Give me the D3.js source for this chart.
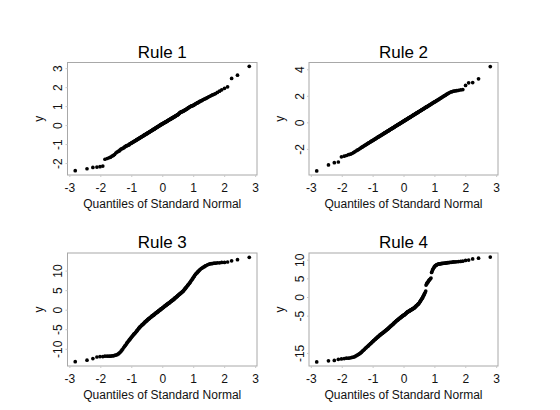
<!DOCTYPE html>
<html>
<head>
<meta charset="utf-8">
<script src="https://cdn.jsdelivr.net/npm/d3@7"></script>
<style>
  body { margin: 0; background: #fff; }
  svg { display: block; font-family: "Liberation Sans", Arial, Helvetica, sans-serif; }
</style>
</head>
<body>
<div id="chart"></div>
<script>
// Quantiles of standard normal (x), n = 200
var xq = [
  -2.81,-2.43,-2.24,-2.11,-2.01,-1.92,-1.85,-1.78,-1.72,-1.67,
  -1.62,-1.58,-1.54,-1.50,-1.46,-1.42,-1.39,-1.36,-1.33,-1.30,
  -1.27,-1.24,-1.21,-1.19,-1.16,-1.14,-1.12,-1.09,-1.07,-1.05,
  -1.03,-1.01,-0.99,-0.97,-0.95,-0.93,-0.91,-0.89,-0.87,-0.85,
  -0.83,-0.82,-0.80,-0.78,-0.76,-0.75,-0.73,-0.72,-0.70,-0.68,
  -0.67,-0.65,-0.64,-0.62,-0.61,-0.59,-0.58,-0.56,-0.55,-0.53,
  -0.52,-0.50,-0.49,-0.48,-0.46,-0.45,-0.43,-0.42,-0.41,-0.39,
  -0.38,-0.37,-0.35,-0.34,-0.33,-0.31,-0.30,-0.29,-0.27,-0.26,
  -0.25,-0.23,-0.22,-0.21,-0.20,-0.18,-0.17,-0.16,-0.14,-0.13,
  -0.12,-0.11,-0.09,-0.08,-0.07,-0.06,-0.04,-0.03,-0.02,-0.01,
  0.01,0.02,0.03,0.04,0.06,0.07,0.08,0.09,0.11,0.12,
  0.13,0.14,0.16,0.17,0.18,0.20,0.21,0.22,0.23,0.25,
  0.26,0.27,0.29,0.30,0.31,0.33,0.34,0.35,0.37,0.38,
  0.39,0.41,0.42,0.43,0.45,0.46,0.48,0.49,0.50,0.52,
  0.53,0.55,0.56,0.58,0.59,0.61,0.62,0.64,0.65,0.67,
  0.68,0.70,0.72,0.73,0.75,0.76,0.78,0.80,0.82,0.83,
  0.85,0.87,0.89,0.91,0.93,0.95,0.97,0.99,1.01,1.03,
  1.05,1.07,1.09,1.12,1.14,1.16,1.19,1.21,1.24,1.27,
  1.30,1.33,1.36,1.39,1.42,1.46,1.50,1.54,1.58,1.62,
  1.67,1.72,1.78,1.85,1.92,2.01,2.11,2.24,2.43,2.81
];

var rule1 = [
  -2.40,-2.30,-2.23,-2.21,-2.19,-2.16,-1.80,-1.76,-1.72,-1.69,
  -1.63,-1.60,-1.55,-1.47,-1.42,-1.38,-1.36,-1.31,-1.26,-1.24,
  -1.22,-1.19,-1.15,-1.12,-1.10,-1.08,-1.07,-1.05,-1.03,-0.99,
  -0.97,-0.96,-0.94,-0.92,-0.90,-0.88,-0.86,-0.84,-0.82,-0.80,
  -0.78,-0.77,-0.75,-0.73,-0.71,-0.70,-0.68,-0.67,-0.65,-0.63,
  -0.62,-0.60,-0.59,-0.57,-0.56,-0.54,-0.52,-0.51,-0.50,-0.48,
  -0.47,-0.45,-0.44,-0.43,-0.41,-0.39,-0.38,-0.37,-0.35,-0.34,
  -0.33,-0.31,-0.30,-0.29,-0.27,-0.26,-0.24,-0.23,-0.22,-0.21,
  -0.20,-0.18,-0.16,-0.15,-0.14,-0.12,-0.11,-0.10,-0.08,-0.07,
  -0.06,-0.05,-0.03,-0.02,0.00,0.01,0.02,0.03,0.05,0.06,
  0.07,0.08,0.09,0.10,0.12,0.13,0.14,0.15,0.16,0.17,
  0.19,0.20,0.21,0.22,0.24,0.25,0.27,0.28,0.29,0.30,
  0.31,0.32,0.34,0.35,0.37,0.38,0.39,0.40,0.42,0.43,
  0.44,0.46,0.47,0.48,0.50,0.51,0.53,0.54,0.55,0.57,
  0.59,0.62,0.64,0.66,0.68,0.69,0.70,0.71,0.72,0.73,
  0.74,0.76,0.78,0.79,0.81,0.82,0.84,0.86,0.88,0.90,
  0.92,0.94,0.96,0.98,1.00,1.01,1.02,1.03,1.05,1.07,
  1.09,1.11,1.14,1.16,1.18,1.19,1.22,1.25,1.27,1.29,
  1.32,1.35,1.37,1.39,1.42,1.45,1.49,1.52,1.56,1.59,
  1.62,1.66,1.72,1.79,1.86,1.94,2.02,2.46,2.63,3.10
];

var rule2 = [
  -3.66,-3.21,-3.04,-2.99,-2.60,-2.55,-2.50,-2.44,-2.40,-2.35,
  -2.28,-2.22,-2.16,-2.10,-2.05,-1.99,-1.94,-1.89,-1.85,-1.81,
  -1.76,-1.72,-1.68,-1.65,-1.60,-1.57,-1.54,-1.50,-1.47,-1.44,
  -1.41,-1.38,-1.36,-1.33,-1.30,-1.27,-1.24,-1.21,-1.18,-1.15,
  -1.12,-1.11,-1.08,-1.05,-1.02,-1.01,-0.98,-0.96,-0.94,-0.91,
  -0.89,-0.86,-0.85,-0.82,-0.80,-0.78,-0.76,-0.73,-0.72,-0.69,
  -0.67,-0.65,-0.63,-0.62,-0.59,-0.57,-0.54,-0.53,-0.51,-0.49,
  -0.47,-0.46,-0.43,-0.41,-0.40,-0.37,-0.36,-0.34,-0.31,-0.30,
  -0.28,-0.25,-0.24,-0.22,-0.21,-0.18,-0.17,-0.15,-0.12,-0.11,
  -0.09,-0.08,-0.05,-0.04,-0.02,-0.01,0.02,0.04,0.05,0.07,
  0.09,0.11,0.12,0.14,0.17,0.18,0.20,0.21,0.24,0.25,
  0.27,0.28,0.31,0.33,0.34,0.37,0.38,0.40,0.41,0.44,
  0.46,0.47,0.50,0.52,0.53,0.56,0.57,0.59,0.62,0.63,
  0.65,0.67,0.69,0.70,0.73,0.75,0.78,0.79,0.81,0.83,
  0.85,0.88,0.89,0.92,0.94,0.96,0.98,1.01,1.02,1.05,
  1.07,1.10,1.12,1.14,1.17,1.18,1.21,1.24,1.27,1.28,
  1.31,1.34,1.37,1.40,1.43,1.46,1.49,1.52,1.54,1.57,
  1.60,1.63,1.66,1.70,1.73,1.76,1.81,1.83,1.88,1.92,
  1.97,2.01,2.05,2.10,2.14,2.20,2.25,2.29,2.32,2.35,
  2.37,2.39,2.41,2.44,2.47,2.78,2.98,3.00,3.28,4.20
];

var rule3 = [
  -13.3,-12.9,-12.5,-12.1,-12.0,-12.0,-11.9,-11.9,-11.9,-11.9,
  -11.8,-11.8,-11.7,-11.6,-11.5,-11.3,-11.1,-10.9,-10.6,-10.3,
  -10.0,-9.6,-9.3,-9.1,-8.8,-8.5,-8.3,-8.0,-7.8,-7.6,
  -7.4,-7.2,-7.0,-6.8,-6.6,-6.4,-6.2,-6.1,-5.9,-5.7,
  -5.5,-5.4,-5.2,-5.0,-4.8,-4.7,-4.5,-4.4,-4.3,-4.1,
  -4.0,-3.9,-3.8,-3.7,-3.6,-3.4,-3.4,-3.2,-3.1,-3.0,
  -2.9,-2.8,-2.7,-2.6,-2.5,-2.4,-2.3,-2.2,-2.2,-2.0,
  -2.0,-1.9,-1.8,-1.7,-1.6,-1.5,-1.5,-1.4,-1.3,-1.2,
  -1.2,-1.0,-1.0,-0.9,-0.8,-0.7,-0.7,-0.6,-0.5,-0.4,
  -0.3,-0.3,-0.2,-0.1,0.0,0.0,0.2,0.2,0.3,0.3,
  0.5,0.5,0.6,0.6,0.8,0.8,0.9,1.0,1.1,1.1,
  1.2,1.3,1.4,1.4,1.5,1.6,1.7,1.7,1.8,1.9,
  2.0,2.1,2.2,2.2,2.3,2.4,2.5,2.5,2.7,2.7,
  2.8,3.0,3.0,3.1,3.2,3.3,3.4,3.5,3.6,3.7,
  3.8,3.9,4.0,4.1,4.2,4.3,4.4,4.5,4.6,4.7,
  4.8,5.0,5.2,5.3,5.5,5.6,5.8,6.0,6.2,6.3,
  6.5,6.7,6.9,7.1,7.4,7.6,7.8,8.1,8.3,8.5,
  8.8,9.0,9.2,9.4,9.6,9.8,10.0,10.2,10.4,10.6,
  10.7,10.9,11.0,11.2,11.3,11.5,11.6,11.7,11.8,11.8,
  11.9,11.9,12.0,12.0,12.1,12.1,12.2,12.5,12.8,13.4
];

var rule4 = [
  -17.4,-17.1,-17.0,-16.7,-16.6,-16.5,-16.4,-16.4,-16.3,-16.2,
  -16.1,-16.0,-15.8,-15.6,-15.4,-15.2,-15.0,-14.8,-14.5,-14.3,
  -14.1,-13.8,-13.6,-13.4,-13.2,-13.1,-12.9,-12.7,-12.5,-12.4,
  -12.2,-12.0,-11.9,-11.7,-11.6,-11.4,-11.3,-11.1,-11.0,-10.8,
  -10.7,-10.6,-10.5,-10.3,-10.2,-10.1,-10.0,-9.9,-9.8,-9.7,
  -9.6,-9.5,-9.4,-9.3,-9.2,-9.1,-9.0,-8.9,-8.8,-8.7,
  -8.6,-8.5,-8.4,-8.3,-8.2,-8.1,-7.9,-7.9,-7.8,-7.6,
  -7.6,-7.5,-7.3,-7.3,-7.2,-7.0,-6.9,-6.9,-6.7,-6.6,
  -6.6,-6.4,-6.3,-6.3,-6.2,-6.1,-6.0,-5.9,-5.8,-5.7,
  -5.7,-5.6,-5.5,-5.4,-5.3,-5.3,-5.1,-5.1,-5.0,-4.9,
  -4.9,-4.8,-4.7,-4.7,-4.5,-4.5,-4.4,-4.3,-4.1,-4.1,
  -4.0,-4.0,-3.9,-3.8,-3.8,-3.7,-3.6,-3.6,-3.5,-3.4,
  -3.4,-3.3,-3.2,-3.2,-3.1,-3.0,-3.0,-2.9,-2.7,-2.7,
  -2.6,-2.4,-2.3,-2.3,-2.1,-2.0,-1.9,-1.8,-1.7,-1.4,
  -1.3,-1.1,-0.9,-0.7,-0.5,-0.3,-0.1,0.2,0.4,0.7,
  0.9,1.2,1.6,3.2,3.5,3.7,3.9,4.1,4.4,4.5,
  4.7,4.9,5.1,6.6,7.0,7.4,7.7,8.0,8.2,8.4,
  8.5,8.6,8.7,8.8,8.85,8.9,8.9,8.95,9.0,9.0,
  9.05,9.1,9.1,9.15,9.2,9.2,9.3,9.3,9.35,9.4,
  9.4,9.45,9.5,9.55,9.6,9.8,9.9,10.2,10.4,10.7
];

var titles = ["Rule 1", "Rule 2", "Rule 3", "Rule 4"];
var xTicks = [-3, -2, -1, 0, 1, 2, 3];
var yTicks1 = [-2, -1, 0, 1, 2, 3];
var yTicks2 = [-2, 0, 2, 4];
var yTicks3 = [-10, -5, 0, 5, 10];
var yTicks4 = [-15, -5, 0, 5, 10];

var width = 560, height = 410;

var svg = d3.select("#chart").append("svg")
    .attr("width", width)
    .attr("height", height);

svg.append("rect").attr("width", width).attr("height", height).attr("fill", "#fff");

// panel layout (box position in pixels) + y ranges
var panels = [
  {title: titles[0], ys: rule1, yTicks: yTicks1, yDom: [-2.63, 3.30], left: 67.5, top: 62.5, w: 189.5, h: 112.5},
  {title: titles[1], ys: rule2, yTicks: yTicks2, yDom: [-3.97, 4.51], left: 309, top: 62.5, w: 189, h: 112.5},
  {title: titles[2], ys: rule3, yTicks: yTicks3, yDom: [-14.4, 14.5], left: 67.5, top: 253, w: 189.5, h: 113},
  {title: titles[3], ys: rule4, yTicks: yTicks4, yDom: [-18.5, 11.8], left: 309, top: 253, w: 189, h: 113}
];

panels.forEach(function(p) {
    var g = svg.append("g")
        .attr("transform", "translate(" + p.left + "," + p.top + ")");

    var x = d3.scaleLinear().domain([-3.06, 3.06]).range([0, p.w]);
    var y = d3.scaleLinear().domain(p.yDom).range([p.h, 0]);

    // box
    g.append("rect")
        .attr("width", p.w)
        .attr("height", p.h)
        .attr("fill", "none")
        .attr("stroke", "#a8a8a8")
        .attr("stroke-width", 1);

    // x axis
    var xa = g.append("g")
        .attr("transform", "translate(0," + p.h + ")")
        .call(d3.axisBottom(x).tickValues(xTicks).tickSize(2).tickPadding(6)
              .tickFormat(function(d) { return String(d); }));
    xa.select(".domain").remove();
    xa.selectAll("line").attr("stroke", "#c8c8c8");
    xa.selectAll("text")
        .attr("fill", "#111")
        .style("font-size", "12px");

    // y axis, labels rotated like S-PLUS
    var ya = g.append("g")
        .call(d3.axisLeft(y).tickValues(p.yTicks).tickSize(2)
              .tickFormat(function(d) { return String(d); }));
    ya.select(".domain").remove();
    ya.selectAll("line").attr("stroke", "#c8c8c8");
    ya.selectAll("text")
        .attr("x", 0)
        .attr("dy", 0)
        .attr("text-anchor", "middle")
        .attr("transform", "translate(-5.5,0) rotate(-90)")
        .attr("fill", "#111")
        .style("font-size", "12px");

    // title
    g.append("text")
        .attr("x", p.w / 2)
        .attr("y", -5)
        .attr("text-anchor", "middle")
        .attr("fill", "#000")
        .style("font-size", "17px")
        .text(p.title);

    // axis titles
    g.append("text")
        .attr("x", p.w / 2)
        .attr("y", p.h + 33)
        .attr("text-anchor", "middle")
        .attr("fill", "#111")
        .style("font-size", "12px")
        .text("Quantiles of Standard Normal");

    g.append("text")
        .attr("transform", "translate(-25," + (p.h / 2) + ") rotate(-90)")
        .attr("text-anchor", "middle")
        .attr("fill", "#111")
        .style("font-size", "12px")
        .text("y");

    // points
    g.selectAll("circle")
        .data(p.ys)
        .enter().append("circle")
        .attr("cx", function(d, i) { return x(xq[i]); })
        .attr("cy", function(d) { return y(d); })
        .attr("r", 1.85)
        .attr("fill", "#000");
});
</script>
</body>
</html>
